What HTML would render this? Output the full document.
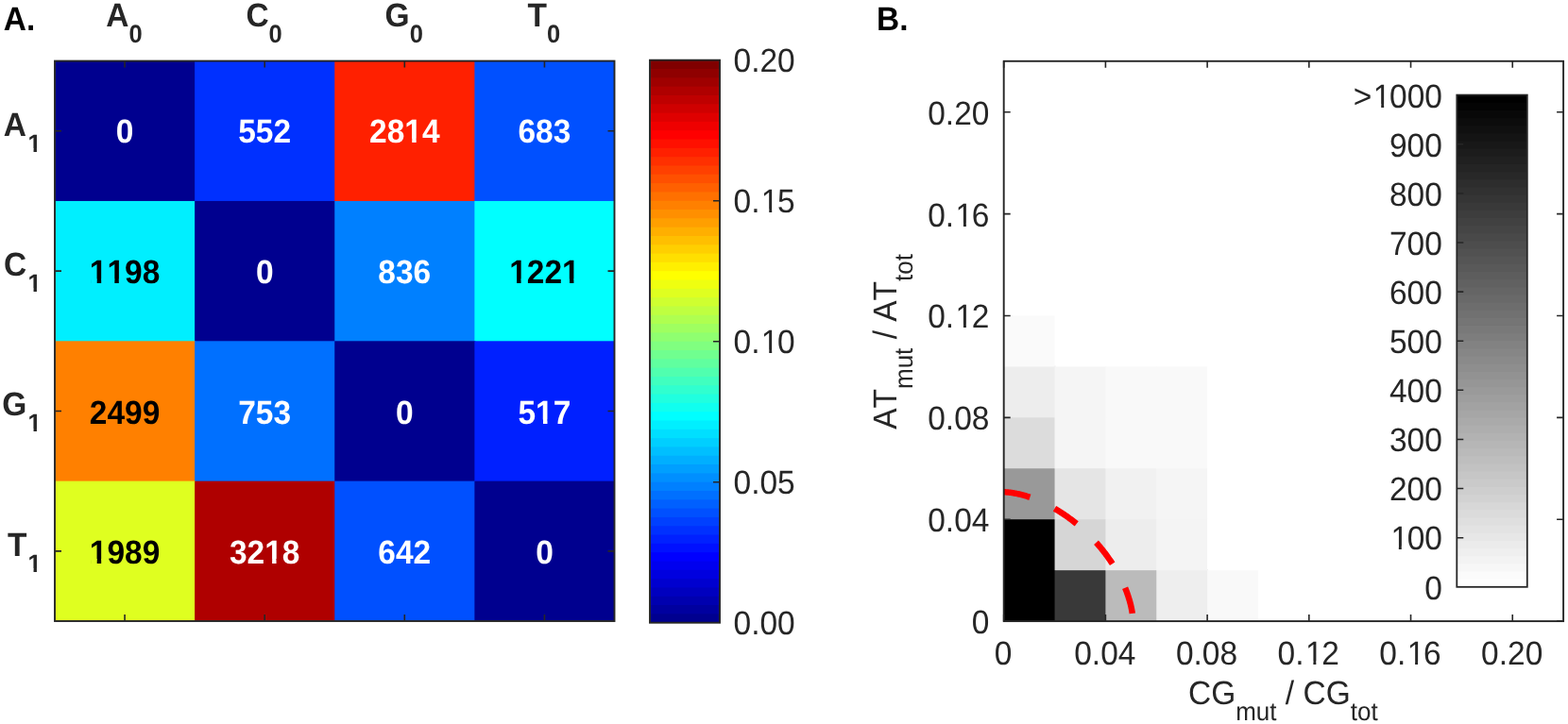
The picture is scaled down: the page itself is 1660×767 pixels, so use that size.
<!DOCTYPE html>
<html><head><meta charset="utf-8"><title>Figure</title>
<style>
html,body{margin:0;padding:0;background:#fff;overflow:hidden;width:1660px;height:767px;}
svg{display:block;}
text{font-kerning:none;text-rendering:geometricPrecision;}
.b{font-family:"Liberation Sans",Arial,Helvetica,sans-serif;font-weight:bold;font-size:33.5px;}
.r{font-family:"Liberation Sans",Arial,Helvetica,sans-serif;font-weight:normal;font-size:33.5px;}
</style></head>
<body>
<svg width="1660" height="767" viewBox="0 0 1660 767">
<defs><clipPath id="fc0"><path clip-rule="evenodd" d="M-2000 -2000H2000V2000H-2000ZM1.51 -4.36H7.91V1.00H1.51ZM12.36 -4.36H18.76V1.00H12.36Z"/></clipPath><clipPath id="fc1"><path clip-rule="evenodd" d="M-2000 -2000H2000V2000H-2000ZM-35.74 -4.36H-29.35V1.00H-35.74ZM-24.89 -4.36H-18.49V1.00H-24.89ZM-17.12 -4.36H-10.72V1.00H-17.12ZM-6.26 -4.36H0.13V1.00H-6.26Z"/></clipPath><clipPath id="fc2"><path clip-rule="evenodd" d="M-2000 -2000H2000V2000H-2000ZM-35.74 -4.36H-29.35V1.00H-35.74ZM-24.89 -4.36H-18.49V1.00H-24.89ZM20.13 -4.36H26.53V1.00H20.13ZM30.99 -4.36H37.39V1.00H30.99Z"/></clipPath><clipPath id="fc3"><path clip-rule="evenodd" d="M-2000 -2000H2000V2000H-2000ZM-7.81 -4.36H-1.41V1.00H-7.81ZM3.05 -4.36H9.45V1.00H3.05Z"/></clipPath><clipPath id="fc4"><path clip-rule="evenodd" d="M-2000 -2000H2000V2000H-2000ZM-35.74 -4.36H-29.35V1.00H-35.74ZM-24.89 -4.36H-18.49V1.00H-24.89Z"/></clipPath><clipPath id="fc5"><path clip-rule="evenodd" d="M-2000 -2000H2000V2000H-2000ZM1.51 -4.36H7.91V1.00H1.51ZM12.36 -4.36H18.76V1.00H12.36Z"/></clipPath><clipPath id="fc6"><path clip-rule="evenodd" d="M-2000 -2000H2000V2000H-2000ZM-13.03 -3.31H-8.16V0.77H-13.03ZM-4.77 -3.31H0.10V0.77H-4.77Z"/></clipPath><clipPath id="fc7"><path clip-rule="evenodd" d="M-2000 -2000H2000V2000H-2000ZM-13.03 -3.31H-8.16V0.77H-13.03ZM-4.77 -3.31H0.10V0.77H-4.77Z"/></clipPath><clipPath id="fc8"><path clip-rule="evenodd" d="M-2000 -2000H2000V2000H-2000ZM-13.03 -3.31H-8.16V0.77H-13.03ZM-4.77 -3.31H0.10V0.77H-4.77Z"/></clipPath><clipPath id="fc9"><path clip-rule="evenodd" d="M-2000 -2000H2000V2000H-2000ZM-13.03 -3.31H-8.16V0.77H-13.03ZM-4.77 -3.31H0.10V0.77H-4.77Z"/></clipPath><clipPath id="fc10"><path clip-rule="evenodd" d="M-2000 -2000H2000V2000H-2000ZM31.35 -3.69H37.75V1.00H31.35ZM40.70 -3.69H47.09V1.00H40.70Z"/></clipPath><clipPath id="fc11"><path clip-rule="evenodd" d="M-2000 -2000H2000V2000H-2000ZM31.35 -3.69H37.75V1.00H31.35ZM40.70 -3.69H47.09V1.00H40.70Z"/></clipPath><clipPath id="fc12"><path clip-rule="evenodd" d="M-2000 -2000H2000V2000H-2000ZM-51.07 -3.69H-44.67V1.00H-51.07ZM-41.72 -3.69H-35.32V1.00H-41.72Z"/></clipPath><clipPath id="fc13"><path clip-rule="evenodd" d="M-2000 -2000H2000V2000H-2000ZM-71.09 -3.69H-64.70V1.00H-71.09ZM-61.75 -3.69H-55.35V1.00H-61.75Z"/></clipPath><clipPath id="fc14"><path clip-rule="evenodd" d="M-2000 -2000H2000V2000H-2000ZM-1.25 -3.69H5.15V1.00H-1.25ZM8.10 -3.69H14.50V1.00H8.10Z"/></clipPath><clipPath id="fc15"><path clip-rule="evenodd" d="M-2000 -2000H2000V2000H-2000ZM-33.84 -3.69H-27.44V1.00H-33.84ZM-24.50 -3.69H-18.10V1.00H-24.50Z"/></clipPath><clipPath id="fc16"><path clip-rule="evenodd" d="M-2000 -2000H2000V2000H-2000ZM-1.25 -3.69H5.15V1.00H-1.25ZM8.10 -3.69H14.50V1.00H8.10Z"/></clipPath><clipPath id="fc17"><path clip-rule="evenodd" d="M-2000 -2000H2000V2000H-2000ZM-33.84 -3.69H-27.44V1.00H-33.84ZM-24.50 -3.69H-18.10V1.00H-24.50Z"/></clipPath></defs>
<rect width="1660" height="767" fill="#fff"/>
<rect x="58.00" y="64.60" width="149.12" height="149.35" fill="#00008F"/>
<rect x="206.12" y="64.60" width="149.12" height="149.35" fill="#0030FF"/>
<rect x="354.25" y="64.60" width="149.12" height="149.35" fill="#FF2000"/>
<rect x="502.38" y="64.60" width="148.12" height="149.35" fill="#0050FF"/>
<rect x="58.00" y="212.95" width="149.12" height="149.35" fill="#00EFFF"/>
<rect x="206.12" y="212.95" width="149.12" height="149.35" fill="#00008F"/>
<rect x="354.25" y="212.95" width="149.12" height="149.35" fill="#0080FF"/>
<rect x="502.38" y="212.95" width="148.12" height="149.35" fill="#00FFFF"/>
<rect x="58.00" y="361.30" width="149.12" height="149.35" fill="#FF8000"/>
<rect x="206.12" y="361.30" width="149.12" height="149.35" fill="#0070FF"/>
<rect x="354.25" y="361.30" width="149.12" height="149.35" fill="#00008F"/>
<rect x="502.38" y="361.30" width="148.12" height="149.35" fill="#0020FF"/>
<rect x="58.00" y="509.65" width="149.12" height="148.35" fill="#DFFF20"/>
<rect x="206.12" y="509.65" width="149.12" height="148.35" fill="#AF0000"/>
<rect x="354.25" y="509.65" width="149.12" height="148.35" fill="#0050FF"/>
<rect x="502.38" y="509.65" width="148.12" height="148.35" fill="#00008F"/>
<text transform="translate(132.06 151.27) scale(1 1.048)" class="b" text-anchor="middle" fill="#fff">0</text>
<text transform="translate(280.19 151.27) scale(1 1.048)" class="b" text-anchor="middle" fill="#fff">552</text>
<text transform="translate(428.31 151.27) scale(1 1.048)" class="b" text-anchor="middle" fill="#fff" clip-path="url(#fc0)">2814</text>
<text transform="translate(576.44 151.27) scale(1 1.048)" class="b" text-anchor="middle" fill="#fff">683</text>
<text transform="translate(132.06 300.02) scale(1 1.048)" class="b" text-anchor="middle" fill="#000" clip-path="url(#fc1)">1198</text>
<text transform="translate(280.19 300.02) scale(1 1.048)" class="b" text-anchor="middle" fill="#fff">0</text>
<text transform="translate(428.31 300.02) scale(1 1.048)" class="b" text-anchor="middle" fill="#fff">836</text>
<text transform="translate(576.44 300.02) scale(1 1.048)" class="b" text-anchor="middle" fill="#000" clip-path="url(#fc2)">1221</text>
<text transform="translate(132.06 449.18) scale(1 1.048)" class="b" text-anchor="middle" fill="#000">2499</text>
<text transform="translate(280.19 449.18) scale(1 1.048)" class="b" text-anchor="middle" fill="#fff">753</text>
<text transform="translate(428.31 449.18) scale(1 1.048)" class="b" text-anchor="middle" fill="#fff">0</text>
<text transform="translate(576.44 449.18) scale(1 1.048)" class="b" text-anchor="middle" fill="#fff" clip-path="url(#fc3)">517</text>
<text transform="translate(132.06 596.53) scale(1 1.048)" class="b" text-anchor="middle" fill="#000" clip-path="url(#fc4)">1989</text>
<text transform="translate(280.19 596.53) scale(1 1.048)" class="b" text-anchor="middle" fill="#fff" clip-path="url(#fc5)">3218</text>
<text transform="translate(428.31 596.53) scale(1 1.048)" class="b" text-anchor="middle" fill="#fff">642</text>
<text transform="translate(576.44 596.53) scale(1 1.048)" class="b" text-anchor="middle" fill="#fff">0</text>
<rect x="58.0" y="64.6" width="592.5" height="593.4" fill="none" stroke="#262626" stroke-width="1.9"/>
<path d="M132.06 64.6v7.0M132.06 658.0v-7.0M280.19 64.6v7.0M280.19 658.0v-7.0M428.31 64.6v7.0M428.31 658.0v-7.0M576.44 64.6v7.0M576.44 658.0v-7.0M58.0 138.77h7.0M650.5 138.77h-7.0M58.0 287.12h7.0M650.5 287.12h-7.0M58.0 435.48h7.0M650.5 435.48h-7.0M58.0 583.83h7.0M650.5 583.83h-7.0" stroke="#262626" stroke-width="1.6" fill="none"/>
<text transform="translate(131.46 28.00) scale(1 1.048)" class="b" text-anchor="middle" fill="#262626">A<tspan font-size="25.5" dy="16.13">0</tspan></text>
<text transform="translate(279.59 28.00) scale(1 1.048)" class="b" text-anchor="middle" fill="#262626">C<tspan font-size="25.5" dy="16.13">0</tspan></text>
<text transform="translate(427.71 28.00) scale(1 1.048)" class="b" text-anchor="middle" fill="#262626">G<tspan font-size="25.5" dy="16.13">0</tspan></text>
<text transform="translate(575.84 28.00) scale(1 1.048)" class="b" text-anchor="middle" fill="#262626">T<tspan font-size="25.5" dy="16.13">0</tspan></text>
<text transform="translate(15.85 143.77) scale(1 1.048)" class="b" text-anchor="middle" fill="#262626">A</text>
<text transform="translate(43.70 160.67) scale(1 1.048)" class="b" text-anchor="end" fill="#262626" style="font-size:25.5px" clip-path="url(#fc6)">1</text>
<text transform="translate(16.05 292.12) scale(1 1.048)" class="b" text-anchor="middle" fill="#262626">C</text>
<text transform="translate(43.70 309.02) scale(1 1.048)" class="b" text-anchor="end" fill="#262626" style="font-size:25.5px" clip-path="url(#fc7)">1</text>
<text transform="translate(15.25 440.48) scale(1 1.048)" class="b" text-anchor="middle" fill="#262626">G</text>
<text transform="translate(43.70 457.38) scale(1 1.048)" class="b" text-anchor="end" fill="#262626" style="font-size:25.5px" clip-path="url(#fc8)">1</text>
<text transform="translate(18.30 588.83) scale(1 1.048)" class="b" text-anchor="middle" fill="#262626">T</text>
<text transform="translate(43.70 605.73) scale(1 1.048)" class="b" text-anchor="end" fill="#262626" style="font-size:25.5px" clip-path="url(#fc9)">1</text>
<text transform="translate(3.80 31.60) scale(1 1.048)" class="b" fill="#000">A.</text>
<rect x="688.0" y="649.39" width="74.0" height="10.31" fill="#00008F"/>
<rect x="688.0" y="640.08" width="74.0" height="10.31" fill="#00009F"/>
<rect x="688.0" y="630.76" width="74.0" height="10.31" fill="#0000AF"/>
<rect x="688.0" y="621.45" width="74.0" height="10.31" fill="#0000BF"/>
<rect x="688.0" y="612.14" width="74.0" height="10.31" fill="#0000CF"/>
<rect x="688.0" y="602.83" width="74.0" height="10.31" fill="#0000DF"/>
<rect x="688.0" y="593.51" width="74.0" height="10.31" fill="#0000EF"/>
<rect x="688.0" y="584.20" width="74.0" height="10.31" fill="#0000FF"/>
<rect x="688.0" y="574.89" width="74.0" height="10.31" fill="#0010FF"/>
<rect x="688.0" y="565.58" width="74.0" height="10.31" fill="#0020FF"/>
<rect x="688.0" y="556.26" width="74.0" height="10.31" fill="#0030FF"/>
<rect x="688.0" y="546.95" width="74.0" height="10.31" fill="#0040FF"/>
<rect x="688.0" y="537.64" width="74.0" height="10.31" fill="#0050FF"/>
<rect x="688.0" y="528.33" width="74.0" height="10.31" fill="#0060FF"/>
<rect x="688.0" y="519.01" width="74.0" height="10.31" fill="#0070FF"/>
<rect x="688.0" y="509.70" width="74.0" height="10.31" fill="#0080FF"/>
<rect x="688.0" y="500.39" width="74.0" height="10.31" fill="#008FFF"/>
<rect x="688.0" y="491.08" width="74.0" height="10.31" fill="#009FFF"/>
<rect x="688.0" y="481.76" width="74.0" height="10.31" fill="#00AFFF"/>
<rect x="688.0" y="472.45" width="74.0" height="10.31" fill="#00BFFF"/>
<rect x="688.0" y="463.14" width="74.0" height="10.31" fill="#00CFFF"/>
<rect x="688.0" y="453.83" width="74.0" height="10.31" fill="#00DFFF"/>
<rect x="688.0" y="444.51" width="74.0" height="10.31" fill="#00EFFF"/>
<rect x="688.0" y="435.20" width="74.0" height="10.31" fill="#00FFFF"/>
<rect x="688.0" y="425.89" width="74.0" height="10.31" fill="#10FFEF"/>
<rect x="688.0" y="416.58" width="74.0" height="10.31" fill="#20FFDF"/>
<rect x="688.0" y="407.26" width="74.0" height="10.31" fill="#30FFCF"/>
<rect x="688.0" y="397.95" width="74.0" height="10.31" fill="#40FFBF"/>
<rect x="688.0" y="388.64" width="74.0" height="10.31" fill="#50FFAF"/>
<rect x="688.0" y="379.33" width="74.0" height="10.31" fill="#60FF9F"/>
<rect x="688.0" y="370.01" width="74.0" height="10.31" fill="#70FF8F"/>
<rect x="688.0" y="360.70" width="74.0" height="10.31" fill="#80FF80"/>
<rect x="688.0" y="351.39" width="74.0" height="10.31" fill="#8FFF70"/>
<rect x="688.0" y="342.08" width="74.0" height="10.31" fill="#9FFF60"/>
<rect x="688.0" y="332.76" width="74.0" height="10.31" fill="#AFFF50"/>
<rect x="688.0" y="323.45" width="74.0" height="10.31" fill="#BFFF40"/>
<rect x="688.0" y="314.14" width="74.0" height="10.31" fill="#CFFF30"/>
<rect x="688.0" y="304.83" width="74.0" height="10.31" fill="#DFFF20"/>
<rect x="688.0" y="295.51" width="74.0" height="10.31" fill="#EFFF10"/>
<rect x="688.0" y="286.20" width="74.0" height="10.31" fill="#FFFF00"/>
<rect x="688.0" y="276.89" width="74.0" height="10.31" fill="#FFEF00"/>
<rect x="688.0" y="267.58" width="74.0" height="10.31" fill="#FFDF00"/>
<rect x="688.0" y="258.26" width="74.0" height="10.31" fill="#FFCF00"/>
<rect x="688.0" y="248.95" width="74.0" height="10.31" fill="#FFBF00"/>
<rect x="688.0" y="239.64" width="74.0" height="10.31" fill="#FFAF00"/>
<rect x="688.0" y="230.33" width="74.0" height="10.31" fill="#FF9F00"/>
<rect x="688.0" y="221.01" width="74.0" height="10.31" fill="#FF8F00"/>
<rect x="688.0" y="211.70" width="74.0" height="10.31" fill="#FF8000"/>
<rect x="688.0" y="202.39" width="74.0" height="10.31" fill="#FF7000"/>
<rect x="688.0" y="193.08" width="74.0" height="10.31" fill="#FF6000"/>
<rect x="688.0" y="183.76" width="74.0" height="10.31" fill="#FF5000"/>
<rect x="688.0" y="174.45" width="74.0" height="10.31" fill="#FF4000"/>
<rect x="688.0" y="165.14" width="74.0" height="10.31" fill="#FF3000"/>
<rect x="688.0" y="155.83" width="74.0" height="10.31" fill="#FF2000"/>
<rect x="688.0" y="146.51" width="74.0" height="10.31" fill="#FF1000"/>
<rect x="688.0" y="137.20" width="74.0" height="10.31" fill="#FF0000"/>
<rect x="688.0" y="127.89" width="74.0" height="10.31" fill="#EF0000"/>
<rect x="688.0" y="118.58" width="74.0" height="10.31" fill="#DF0000"/>
<rect x="688.0" y="109.26" width="74.0" height="10.31" fill="#CF0000"/>
<rect x="688.0" y="99.95" width="74.0" height="10.31" fill="#BF0000"/>
<rect x="688.0" y="90.64" width="74.0" height="10.31" fill="#AF0000"/>
<rect x="688.0" y="81.33" width="74.0" height="10.31" fill="#9F0000"/>
<rect x="688.0" y="72.01" width="74.0" height="10.31" fill="#8F0000"/>
<rect x="688.0" y="63.70" width="74.0" height="9.31" fill="#800000"/>
<rect x="688.0" y="63.7" width="74.0" height="596.0" fill="none" stroke="#262626" stroke-width="1.9"/>
<text transform="translate(776.50 672.30) scale(1 1.048)" class="r" fill="#262626">0.00</text>
<text transform="translate(776.50 523.30) scale(1 1.048)" class="r" fill="#262626">0.05</text>
<text transform="translate(776.50 374.30) scale(1 1.048)" class="r" fill="#262626" clip-path="url(#fc10)">0.<tspan dx="1.4">1</tspan><tspan dx="-1.4">0</tspan></text>
<text transform="translate(776.50 225.30) scale(1 1.048)" class="r" fill="#262626" clip-path="url(#fc11)">0.<tspan dx="1.4">1</tspan><tspan dx="-1.4">5</tspan></text>
<text transform="translate(776.50 76.30) scale(1 1.048)" class="r" fill="#262626">0.20</text>
<path d="M762.0 510.70h-7.0M762.0 361.70h-7.0M762.0 212.70h-7.0" stroke="#262626" stroke-width="1.6" fill="none"/>
<rect x="1062.70" y="603.16" width="54.85" height="54.94" fill="#000000"/>
<rect x="1116.55" y="603.16" width="54.85" height="54.94" fill="#393939"/>
<rect x="1170.41" y="603.16" width="54.85" height="54.94" fill="#BBBBBB"/>
<rect x="1224.26" y="603.16" width="54.85" height="54.94" fill="#EEEEEE"/>
<rect x="1278.12" y="604.16" width="53.85" height="53.94" fill="#F9F9F9"/>
<rect x="1062.70" y="549.23" width="54.85" height="54.94" fill="#000000"/>
<rect x="1116.55" y="549.23" width="54.85" height="54.94" fill="#D6D6D6"/>
<rect x="1170.41" y="549.23" width="54.85" height="54.94" fill="#EDEDED"/>
<rect x="1224.26" y="549.23" width="53.85" height="54.94" fill="#F4F4F4"/>
<rect x="1062.70" y="495.29" width="54.85" height="54.94" fill="#999999"/>
<rect x="1116.55" y="495.29" width="54.85" height="54.94" fill="#E5E5E5"/>
<rect x="1170.41" y="495.29" width="54.85" height="54.94" fill="#F1F1F1"/>
<rect x="1224.26" y="495.29" width="53.85" height="54.94" fill="#F5F5F5"/>
<rect x="1062.70" y="441.35" width="54.85" height="54.94" fill="#DCDCDC"/>
<rect x="1116.55" y="441.35" width="54.85" height="54.94" fill="#F5F5F5"/>
<rect x="1170.41" y="441.35" width="54.85" height="54.94" fill="#F9F9F9"/>
<rect x="1224.26" y="441.35" width="53.85" height="54.94" fill="#F9F9F9"/>
<rect x="1062.70" y="387.42" width="54.85" height="54.94" fill="#EDEDED"/>
<rect x="1116.55" y="388.42" width="54.85" height="53.94" fill="#F5F5F5"/>
<rect x="1170.41" y="388.42" width="54.85" height="53.94" fill="#F9F9F9"/>
<rect x="1224.26" y="388.42" width="53.85" height="53.94" fill="#F9F9F9"/>
<rect x="1062.70" y="334.48" width="53.85" height="53.94" fill="#FAFAFA"/>
<path d="M1062.70 521.30 L1063.14 521.30 L1063.70 521.32 L1064.32 521.34 L1064.98 521.38 L1065.67 521.42 L1066.38 521.48 L1067.11 521.54 L1067.87 521.62 L1068.64 521.70 L1069.43 521.80 L1070.23 521.90 L1071.05 522.02 L1071.87 522.14 L1072.71 522.28 L1073.56 522.42 L1074.41 522.58 L1075.28 522.74 L1076.16 522.91 L1077.04 523.10 L1077.93 523.29 L1078.82 523.49 L1079.73 523.71 L1080.64 523.93 L1081.55 524.16 L1082.48 524.41 L1083.40 524.66 L1084.33 524.92 L1085.27 525.19 L1086.21 525.47 L1087.16 525.76 L1088.10 526.06 L1089.06 526.37 L1090.01 526.69 L1090.97 527.02 L1091.93 527.36 L1092.90 527.70 L1093.87 528.06 L1094.84 528.43 L1095.81 528.80 L1096.78 529.19 L1097.76 529.58 L1098.73 529.98 L1099.71 530.40 L1100.69 530.82 L1101.68 531.25 L1102.66 531.69 L1103.64 532.14 L1104.62 532.59 L1105.61 533.06 L1106.59 533.54 L1107.58 534.02 L1108.56 534.51 L1109.55 535.01 L1110.53 535.52 L1111.52 536.04 L1112.50 536.57 L1113.49 537.11 L1114.47 537.65 L1115.45 538.20 L1116.43 538.76 L1117.41 539.33 L1118.39 539.91 L1119.37 540.50 L1120.34 541.09 L1121.31 541.69 L1122.29 542.30 L1123.26 542.92 L1124.22 543.55 L1125.19 544.18 L1126.15 544.82 L1127.12 545.47 L1128.07 546.13 L1129.03 546.79 L1129.98 547.46 L1130.93 548.14 L1131.88 548.83 L1132.83 549.52 L1133.77 550.22 L1134.71 550.93 L1135.64 551.65 L1136.57 552.37 L1137.50 553.10 L1138.42 553.83 L1139.34 554.58 L1140.26 555.33 L1141.17 556.08 L1142.08 556.85 L1142.99 557.62 L1143.89 558.39 L1144.78 559.17 L1145.67 559.96 L1146.56 560.76 L1147.44 561.56 L1148.32 562.36 L1149.19 563.18 L1150.06 564.00 L1150.92 564.82 L1151.78 565.65 L1152.63 566.48 L1153.47 567.33 L1154.32 568.17 L1155.15 569.02 L1155.98 569.88 L1156.80 570.74 L1157.62 571.61 L1158.44 572.48 L1159.24 573.36 L1160.04 574.24 L1160.84 575.13 L1161.63 576.02 L1162.41 576.91 L1163.18 577.81 L1163.95 578.72 L1164.72 579.63 L1165.47 580.54 L1166.22 581.46 L1166.97 582.38 L1167.70 583.30 L1168.43 584.23 L1169.15 585.16 L1169.87 586.09 L1170.58 587.03 L1171.28 587.97 L1171.97 588.92 L1172.66 589.87 L1173.34 590.82 L1174.01 591.77 L1174.67 592.73 L1175.33 593.68 L1175.98 594.65 L1176.62 595.61 L1177.25 596.58 L1177.88 597.54 L1178.50 598.51 L1179.11 599.49 L1179.71 600.46 L1180.30 601.43 L1180.89 602.41 L1181.47 603.39 L1182.04 604.37 L1182.60 605.35 L1183.15 606.33 L1183.69 607.31 L1184.23 608.30 L1184.76 609.28 L1185.28 610.27 L1185.79 611.25 L1186.29 612.24 L1186.78 613.22 L1187.26 614.21 L1187.74 615.19 L1188.21 616.18 L1188.66 617.16 L1189.11 618.14 L1189.55 619.12 L1189.98 620.11 L1190.40 621.09 L1190.82 622.07 L1191.22 623.04 L1191.61 624.02 L1192.00 624.99 L1192.37 625.96 L1192.74 626.93 L1193.10 627.90 L1193.44 628.87 L1193.78 629.83 L1194.11 630.79 L1194.43 631.74 L1194.74 632.70 L1195.04 633.64 L1195.33 634.59 L1195.61 635.53 L1195.88 636.47 L1196.14 637.40 L1196.39 638.32 L1196.64 639.25 L1196.87 640.16 L1197.09 641.07 L1197.31 641.98 L1197.51 642.87 L1197.70 643.76 L1197.89 644.64 L1198.06 645.52 L1198.22 646.39 L1198.38 647.24 L1198.52 648.09 L1198.66 648.93 L1198.78 649.75 L1198.90 650.57 L1199.00 651.37 L1199.10 652.16 L1199.18 652.93 L1199.26 653.69 L1199.32 654.42 L1199.38 655.13 L1199.42 655.82 L1199.46 656.48 L1199.48 657.10 L1199.50 657.66 L1199.50 658.10" fill="none" stroke="#FF0000" stroke-width="6.5" stroke-dasharray="28.3 28.8"/>
<rect x="1542.3" y="612.66" width="74.5" height="9.14" fill="#FFFFFF"/>
<rect x="1542.3" y="604.51" width="74.5" height="9.14" fill="#FBFBFB"/>
<rect x="1542.3" y="596.37" width="74.5" height="9.14" fill="#F7F7F7"/>
<rect x="1542.3" y="588.22" width="74.5" height="9.14" fill="#F3F3F3"/>
<rect x="1542.3" y="580.08" width="74.5" height="9.14" fill="#EFEFEF"/>
<rect x="1542.3" y="571.94" width="74.5" height="9.14" fill="#EBEBEB"/>
<rect x="1542.3" y="563.79" width="74.5" height="9.14" fill="#E7E7E7"/>
<rect x="1542.3" y="555.65" width="74.5" height="9.14" fill="#E3E3E3"/>
<rect x="1542.3" y="547.51" width="74.5" height="9.14" fill="#DFDFDF"/>
<rect x="1542.3" y="539.36" width="74.5" height="9.14" fill="#DBDBDB"/>
<rect x="1542.3" y="531.22" width="74.5" height="9.14" fill="#D7D7D7"/>
<rect x="1542.3" y="523.07" width="74.5" height="9.14" fill="#D2D2D2"/>
<rect x="1542.3" y="514.93" width="74.5" height="9.14" fill="#CECECE"/>
<rect x="1542.3" y="506.79" width="74.5" height="9.14" fill="#CACACA"/>
<rect x="1542.3" y="498.64" width="74.5" height="9.14" fill="#C6C6C6"/>
<rect x="1542.3" y="490.50" width="74.5" height="9.14" fill="#C2C2C2"/>
<rect x="1542.3" y="482.36" width="74.5" height="9.14" fill="#BEBEBE"/>
<rect x="1542.3" y="474.21" width="74.5" height="9.14" fill="#BABABA"/>
<rect x="1542.3" y="466.07" width="74.5" height="9.14" fill="#B6B6B6"/>
<rect x="1542.3" y="457.92" width="74.5" height="9.14" fill="#B2B2B2"/>
<rect x="1542.3" y="449.78" width="74.5" height="9.14" fill="#AEAEAE"/>
<rect x="1542.3" y="441.64" width="74.5" height="9.14" fill="#AAAAAA"/>
<rect x="1542.3" y="433.49" width="74.5" height="9.14" fill="#A6A6A6"/>
<rect x="1542.3" y="425.35" width="74.5" height="9.14" fill="#A2A2A2"/>
<rect x="1542.3" y="417.21" width="74.5" height="9.14" fill="#9E9E9E"/>
<rect x="1542.3" y="409.06" width="74.5" height="9.14" fill="#9A9A9A"/>
<rect x="1542.3" y="400.92" width="74.5" height="9.14" fill="#969696"/>
<rect x="1542.3" y="392.77" width="74.5" height="9.14" fill="#929292"/>
<rect x="1542.3" y="384.63" width="74.5" height="9.14" fill="#8E8E8E"/>
<rect x="1542.3" y="376.49" width="74.5" height="9.14" fill="#8A8A8A"/>
<rect x="1542.3" y="368.34" width="74.5" height="9.14" fill="#868686"/>
<rect x="1542.3" y="360.20" width="74.5" height="9.14" fill="#828282"/>
<rect x="1542.3" y="352.06" width="74.5" height="9.14" fill="#7D7D7D"/>
<rect x="1542.3" y="343.91" width="74.5" height="9.14" fill="#797979"/>
<rect x="1542.3" y="335.77" width="74.5" height="9.14" fill="#757575"/>
<rect x="1542.3" y="327.62" width="74.5" height="9.14" fill="#717171"/>
<rect x="1542.3" y="319.48" width="74.5" height="9.14" fill="#6D6D6D"/>
<rect x="1542.3" y="311.34" width="74.5" height="9.14" fill="#696969"/>
<rect x="1542.3" y="303.19" width="74.5" height="9.14" fill="#656565"/>
<rect x="1542.3" y="295.05" width="74.5" height="9.14" fill="#616161"/>
<rect x="1542.3" y="286.91" width="74.5" height="9.14" fill="#5D5D5D"/>
<rect x="1542.3" y="278.76" width="74.5" height="9.14" fill="#595959"/>
<rect x="1542.3" y="270.62" width="74.5" height="9.14" fill="#555555"/>
<rect x="1542.3" y="262.48" width="74.5" height="9.14" fill="#515151"/>
<rect x="1542.3" y="254.33" width="74.5" height="9.14" fill="#4D4D4D"/>
<rect x="1542.3" y="246.19" width="74.5" height="9.14" fill="#494949"/>
<rect x="1542.3" y="238.04" width="74.5" height="9.14" fill="#454545"/>
<rect x="1542.3" y="229.90" width="74.5" height="9.14" fill="#414141"/>
<rect x="1542.3" y="221.76" width="74.5" height="9.14" fill="#3D3D3D"/>
<rect x="1542.3" y="213.61" width="74.5" height="9.14" fill="#393939"/>
<rect x="1542.3" y="205.47" width="74.5" height="9.14" fill="#353535"/>
<rect x="1542.3" y="197.32" width="74.5" height="9.14" fill="#313131"/>
<rect x="1542.3" y="189.18" width="74.5" height="9.14" fill="#2D2D2D"/>
<rect x="1542.3" y="181.04" width="74.5" height="9.14" fill="#282828"/>
<rect x="1542.3" y="172.89" width="74.5" height="9.14" fill="#242424"/>
<rect x="1542.3" y="164.75" width="74.5" height="9.14" fill="#202020"/>
<rect x="1542.3" y="156.61" width="74.5" height="9.14" fill="#1C1C1C"/>
<rect x="1542.3" y="148.46" width="74.5" height="9.14" fill="#181818"/>
<rect x="1542.3" y="140.32" width="74.5" height="9.14" fill="#141414"/>
<rect x="1542.3" y="132.18" width="74.5" height="9.14" fill="#101010"/>
<rect x="1542.3" y="124.03" width="74.5" height="9.14" fill="#0C0C0C"/>
<rect x="1542.3" y="115.89" width="74.5" height="9.14" fill="#080808"/>
<rect x="1542.3" y="107.74" width="74.5" height="9.14" fill="#040404"/>
<rect x="1542.3" y="100.60" width="74.5" height="8.14" fill="#000000"/>
<rect x="1542.3" y="100.6" width="74.5" height="521.1999999999999" fill="none" stroke="#262626" stroke-width="1.8"/>
<text transform="translate(1526.90 634.55) scale(1 1.048)" class="r" text-anchor="end" fill="#262626">0</text>
<text transform="translate(1525.50 582.43) scale(1 1.048)" class="r" text-anchor="end" fill="#262626" clip-path="url(#fc12)"><tspan dx="1.4">1</tspan><tspan dx="-1.4">0</tspan>0</text>
<text transform="translate(1526.90 530.31) scale(1 1.048)" class="r" text-anchor="end" fill="#262626">200</text>
<text transform="translate(1526.90 478.19) scale(1 1.048)" class="r" text-anchor="end" fill="#262626">300</text>
<text transform="translate(1526.90 426.07) scale(1 1.048)" class="r" text-anchor="end" fill="#262626">400</text>
<text transform="translate(1526.90 373.95) scale(1 1.048)" class="r" text-anchor="end" fill="#262626">500</text>
<text transform="translate(1526.90 321.83) scale(1 1.048)" class="r" text-anchor="end" fill="#262626">600</text>
<text transform="translate(1526.90 269.71) scale(1 1.048)" class="r" text-anchor="end" fill="#262626">700</text>
<text transform="translate(1526.90 217.59) scale(1 1.048)" class="r" text-anchor="end" fill="#262626">800</text>
<text transform="translate(1526.90 166.07) scale(1 1.048)" class="r" text-anchor="end" fill="#262626">900</text>
<text transform="translate(1526.90 113.95) scale(1 1.048)" class="r" text-anchor="end" fill="#262626" clip-path="url(#fc13)">&gt;<tspan dx="1.4">1</tspan><tspan dx="-1.4">0</tspan>00</text>
<path d="M1542.3 569.68h7.0M1542.3 517.56h7.0M1542.3 465.44h7.0M1542.3 413.32h7.0M1542.3 361.20h7.0M1542.3 309.08h7.0M1542.3 256.96h7.0M1542.3 204.84h7.0M1542.3 152.72h7.0" stroke="#262626" stroke-width="1.6" fill="none"/>
<rect x="1062.7" y="64.8" width="592.40" height="593.30" fill="none" stroke="#262626" stroke-width="1.9"/>
<text transform="translate(1062.10 704.40) scale(1 1.048)" class="r" text-anchor="middle" fill="#262626">0</text>
<text transform="translate(1047.40 671.10) scale(1 1.048)" class="r" text-anchor="end" fill="#262626">0</text>
<text transform="translate(1169.81 704.40) scale(1 1.048)" class="r" text-anchor="middle" fill="#262626">0.04</text>
<text transform="translate(1047.40 563.23) scale(1 1.048)" class="r" text-anchor="end" fill="#262626">0.04</text>
<text transform="translate(1277.52 704.40) scale(1 1.048)" class="r" text-anchor="middle" fill="#262626">0.08</text>
<text transform="translate(1047.40 455.35) scale(1 1.048)" class="r" text-anchor="end" fill="#262626">0.08</text>
<text transform="translate(1385.23 704.40) scale(1 1.048)" class="r" text-anchor="middle" fill="#262626" clip-path="url(#fc14)">0.<tspan dx="1.4">1</tspan><tspan dx="-1.4">2</tspan></text>
<text transform="translate(1047.40 347.48) scale(1 1.048)" class="r" text-anchor="end" fill="#262626" clip-path="url(#fc15)">0.<tspan dx="1.4">1</tspan><tspan dx="-1.4">2</tspan></text>
<text transform="translate(1492.94 704.40) scale(1 1.048)" class="r" text-anchor="middle" fill="#262626" clip-path="url(#fc16)">0.<tspan dx="1.4">1</tspan><tspan dx="-1.4">6</tspan></text>
<text transform="translate(1047.40 239.61) scale(1 1.048)" class="r" text-anchor="end" fill="#262626" clip-path="url(#fc17)">0.<tspan dx="1.4">1</tspan><tspan dx="-1.4">6</tspan></text>
<text transform="translate(1600.65 704.40) scale(1 1.048)" class="r" text-anchor="middle" fill="#262626">0.20</text>
<text transform="translate(1047.40 131.74) scale(1 1.048)" class="r" text-anchor="end" fill="#262626">0.20</text>
<path d="M1062.70 658.1v-7.0M1062.70 64.8v7.0M1062.7 658.10h7.0M1655.1 658.10h-7.0M1170.41 658.1v-7.0M1170.41 64.8v7.0M1062.7 550.23h7.0M1655.1 550.23h-7.0M1278.12 658.1v-7.0M1278.12 64.8v7.0M1062.7 442.35h7.0M1655.1 442.35h-7.0M1385.83 658.1v-7.0M1385.83 64.8v7.0M1062.7 334.48h7.0M1655.1 334.48h-7.0M1493.54 658.1v-7.0M1493.54 64.8v7.0M1062.7 226.61h7.0M1655.1 226.61h-7.0M1601.25 658.1v-7.0M1601.25 64.8v7.0M1062.7 118.74h7.0M1655.1 118.74h-7.0" stroke="#262626" stroke-width="1.6" fill="none"/>
<text transform="translate(1358.30 745.70) scale(1 1.048)" class="r" text-anchor="middle" fill="#262626">CG<tspan font-size="26.0" dy="16.41">mut</tspan><tspan dy="-16.41"> / CG</tspan><tspan font-size="26.0" dy="16.41">tot</tspan></text>
<text transform="translate(949.00 361.90) rotate(-90) scale(1 1.048)" class="r" text-anchor="middle" fill="#262626">AT<tspan font-size="26.0" dy="16.41">mut</tspan><tspan dy="-16.41"> / AT</tspan><tspan font-size="26.0" dy="16.41">tot</tspan></text>
<text transform="translate(928.00 32.20) scale(1 1.048)" class="b" fill="#000">B.</text>
</svg>
</body></html>
